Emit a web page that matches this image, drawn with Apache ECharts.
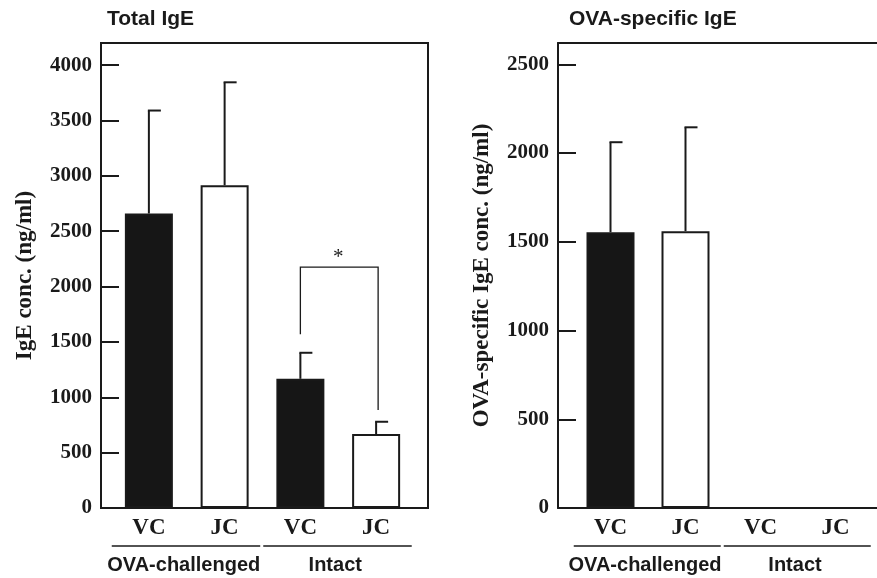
<!DOCTYPE html>
<html>
<head>
<meta charset="utf-8">
<script src="https://cdn.jsdelivr.net/npm/echarts@6/dist/echarts.min.js"></script>
<style>
  html, body { margin: 0; padding: 0; background: #fff; }
</style>
</head>
<body>
<div id="chart" style="width:877px;height:578px"></div>
<script>
// groups / categories
var cats = ['VC', 'JC', 'VC', 'JC'];
var groupNames = ['OVA-challenged', 'Intact'];
var groupSpans = [[0, 1], [2, 3]];

// Total IgE (ng/ml): mean and SD (up only)
var totalMean = [2660, 2915, 1167, 668];
var totalSd = [930, 930, 235, 111];

// OVA-specific IgE (ng/ml)
var ovaMean = [1554, 1560, 0, 0];
var ovaSd = [507, 585, 0, 0];

// significance bracket on Total IgE: [from, to, level, leftEnd, rightEnd]
var sigBracket = [[2, 3, 2175, 1570, 885]];

var ink = '#1a1a1a';
var serif = '"Liberation Serif", "DejaVu Serif", serif';
var sans = '"Liberation Sans", Arial, sans-serif';

function barData(vals) {
  return vals.map(function (v, i) {
    return {
      value: v,
      itemStyle: { color: i % 2 === 0 ? '#161616' : '#ffffff', borderColor: ink, borderWidth: 2 }
    };
  });
}

function errData(mean, sd) {
  var out = [];
  mean.forEach(function (m, i) { if (sd[i] > 0) out.push([i, m, sd[i]]); });
  return out;
}

function renderErr(params, api) {
  var p0 = api.coord([api.value(0), api.value(1)]);
  var p1 = api.coord([api.value(0), api.value(1) + api.value(2)]);
  return {
    type: 'group',
    children: [
      { type: 'line', shape: { x1: p0[0], y1: p0[1], x2: p1[0], y2: p1[1] }, style: { stroke: ink, lineWidth: 2 } },
      { type: 'line', shape: { x1: p1[0] - 1, y1: p1[1], x2: p1[0] + 12, y2: p1[1] }, style: { stroke: ink, lineWidth: 2 } }
    ]
  };
}

function renderBracket(params, api) {
  var top1 = api.coord([api.value(0), api.value(2)]);
  var top2 = api.coord([api.value(1), api.value(2)]);
  var end1 = api.coord([api.value(0), api.value(3)]);
  var end2 = api.coord([api.value(1), api.value(4)]);
  return {
    type: 'group',
    children: [
      { type: 'polyline', shape: { points: [[end1[0], end1[1]], [top1[0], top1[1]], [top2[0] + 2, top2[1]], [end2[0] + 2, end2[1]]] },
        style: { stroke: ink, lineWidth: 1.3, fill: null } },
      { type: 'text', style: { text: '*', x: (top1[0] + top2[0]) / 2, y: top1[1] + 1, align: 'center', verticalAlign: 'bottom',
        font: '21px ' + serif, fill: ink } }
    ]
  };
}

function renderGroup(params, api) {
  var a = api.coord([api.value(0), 0]);
  var b = api.coord([api.value(1), 0]);
  var band = api.size([1, 0])[0];
  var y = a[1] + 38;
  return {
    type: 'group',
    children: [
      { type: 'line', shape: { x1: a[0] - 0.49 * band, y1: y, x2: b[0] + 0.47 * band, y2: y }, style: { stroke: ink, lineWidth: 1.5 } },
      { type: 'text', style: { text: groupNames[params.dataIndex], x: (a[0] + b[0]) / 2 - 3, y: y + 19, align: 'center', verticalAlign: 'middle',
        font: 'bold 20px ' + sans, fill: ink } }
    ]
  };
}

function frameY(max, name) {
  return {
    type: 'value', min: 0, max: max, interval: 500,
    name: name, nameLocation: 'middle', nameGap: 64,
    nameTextStyle: { fontFamily: serif, fontWeight: 'bold', fontSize: 23, color: ink },
    axisLine: { show: true, lineStyle: { color: ink, width: 2 } },
    axisTick: { show: true, inside: true, length: 18, lineStyle: { color: ink, width: 2 } },
    axisLabel: {
      margin: 9, fontFamily: serif, fontWeight: 'bold', fontSize: 21, color: ink,
      formatter: function (v) { return v % 500 === 0 ? String(v) : ''; }
    },
    splitLine: { show: false }
  };
}

function barsY(max) {
  return { type: 'value', min: 0, max: max, show: false, splitLine: { show: false } };
}

function catX(gridIndex) {
  return {
    type: 'category', gridIndex: gridIndex, data: cats,
    axisLine: { show: false }, axisTick: { show: false },
    axisLabel: { margin: 9, fontFamily: serif, fontWeight: 'bold', fontSize: 23, color: ink }
  };
}

// plain line used for the open right-hand frame (top and bottom edges only)
function edgeX(gridIndex, pos) {
  return {
    type: 'value', gridIndex: gridIndex, position: pos,
    axisLine: { show: true, lineStyle: { color: ink, width: 2 } },
    axisTick: { show: false }, axisLabel: { show: false }, splitLine: { show: false }
  };
}

var chart = echarts.init(document.getElementById('chart'));
chart.setOption({
  animation: false,
  backgroundColor: '#fff',
  title: [
    { text: 'Total IgE', left: 102, top: 4, textStyle: { fontFamily: sans, fontWeight: 'bold', fontSize: 21, color: ink } },
    { text: 'OVA-specific IgE', left: 564, top: 4, textStyle: { fontFamily: sans, fontWeight: 'bold', fontSize: 21, color: ink } }
  ],
  grid: [
    { left: 101, top: 43, width: 327, height: 465, show: true, borderColor: ink, borderWidth: 2, backgroundColor: 'transparent' },
    { left: 111, top: 43, width: 303, height: 465 },
    { left: 558, top: 43, width: 330, height: 465 },
    { left: 573, top: 43, width: 300, height: 465 }
  ],
  xAxis: [
    { type: 'value', gridIndex: 0, show: false },
    catX(1),
    edgeX(2, 'bottom'),
    catX(3),
    edgeX(2, 'top')
  ],
  yAxis: [
    Object.assign({ gridIndex: 0 }, frameY(4200, 'IgE conc. (ng/ml)')),
    Object.assign({ gridIndex: 1 }, barsY(4200)),
    Object.assign({ gridIndex: 2 }, frameY(2620, 'OVA-specific IgE conc. (ng/ml)')),
    Object.assign({ gridIndex: 3 }, barsY(2620))
  ],
  series: [
    { type: 'bar', xAxisIndex: 1, yAxisIndex: 1, barWidth: 48, data: barData(totalMean) },
    { type: 'custom', xAxisIndex: 1, yAxisIndex: 1, renderItem: renderErr, data: errData(totalMean, totalSd), z: 1 },
    { type: 'custom', xAxisIndex: 1, yAxisIndex: 1, renderItem: renderBracket, data: sigBracket },
    { type: 'custom', xAxisIndex: 1, yAxisIndex: 1, renderItem: renderGroup, data: groupSpans, clip: false },
    { type: 'bar', xAxisIndex: 3, yAxisIndex: 3, barWidth: 48, data: barData(ovaMean) },
    { type: 'custom', xAxisIndex: 3, yAxisIndex: 3, renderItem: renderErr, data: errData(ovaMean, ovaSd), z: 1 },
    { type: 'custom', xAxisIndex: 3, yAxisIndex: 3, renderItem: renderGroup, data: groupSpans, clip: false }
  ]
});
</script>
</body>
</html>
